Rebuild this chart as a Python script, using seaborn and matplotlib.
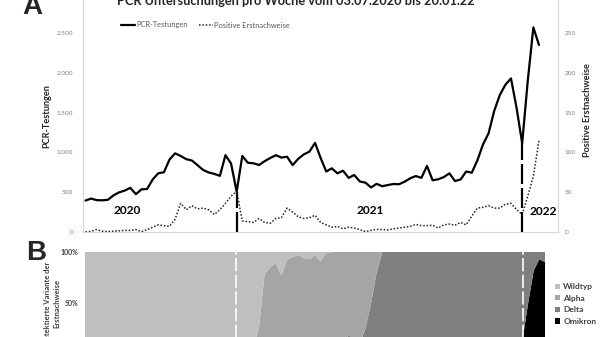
import matplotlib
matplotlib.use("Agg")
import matplotlib.pyplot as plt
import seaborn as sns
import pandas as pd
from matplotlib.lines import Line2D
from matplotlib.patches import Patch
from matplotlib.ticker import FuncFormatter, FixedLocator

# ---------------- data ----------------
pcr_tests = [395, 420, 400, 398, 405, 460, 498, 520, 555, 475,
             536, 540, 660, 738, 750, 910, 988, 955, 915, 898,
             840, 780, 748, 730, 705, 965, 860, 506, 955, 870,
             863, 842, 890, 930, 965, 935, 946, 840, 920, 975,
             1010, 1120, 930, 760, 800, 737, 770, 680, 716, 635,
             620, 560, 605, 575, 590, 603, 600, 632, 675, 703,
             680, 830, 650, 662, 690, 737, 640, 660, 760, 745,
             900, 1100, 1240, 1520, 1720, 1850, 1930, 1560, 1114, 1900,
             2570, 2350]
positive = [0, 1, 3, 1, 0.5, 1, 1.5, 2, 2, 3,
            0.5, 3, 6, 9, 8, 7, 16, 36, 28, 33,
            29, 30, 28, 22, 28, 36, 45, 51, 14, 13,
            12, 17, 12, 11, 17, 18, 30, 25, 19, 17,
            18, 21, 12, 9, 6, 7, 4, 6, 5, 3,
            0.5, 2, 3.3, 3, 2.6, 4, 5, 6, 7, 9.5,
            8, 8, 8.5, 5, 9, 10, 8.5, 12, 9, 20,
            30, 31, 33, 30, 30, 35, 36, 28, 22, 45,
            70, 115]
weeks = list(range(len(pcr_tests)))

year_labels = ["2020", "2021", "2022"]
year_breaks = [27, 78]

variant_names = ["Wildtyp", "Alpha", "Delta", "Omikron"]
variant_colors = ["#bfbfbf", "#a5a5a5", "#7f7f7f", "#000000"]
wildtyp = [100] * 28 + [98, 96, 92, 75, 22, 15, 11, 23, 8, 5, 3, 6, 7, 3, 9, 1] + [0] * 39
alpha = [0] * 28 + [2, 4, 8, 25, 78, 85, 89, 77, 92, 95, 97, 94, 93, 97, 91, 99,
                    100, 100, 98, 80, 92, 90, 75, 50, 20, 0] + [0] * 29
delta = [0] * 46 + [2, 20, 8, 10, 25, 50, 80, 100] + [100] * 23 + [98, 86, 50, 18, 7, 10]
omikron = [0] * 77 + [2, 14, 50, 82, 93, 90]
weeks_b = list(range(len(wildtyp)))

left_ticks = [0, 500, 1000, 1500, 2000, 2500]
right_ticks = [0, 50, 100, 150, 200, 250]
pct_ticks = [0, 50, 100]

title = "PCR Untersuchungen pro Woche vom 03.07.2020 bis 20.01.22"

# ---------------- style ----------------
sns.set_theme(style="white")
plt.rcParams["font.family"] = ["Lato", "DejaVu Sans"]

W, H = 600, 337
fig = plt.figure(figsize=(W / 100, H / 100), dpi=100)

def fx(px):
    return px / W

def fy(py):
    return 1 - py / H

DOT = (0, (1, 1.2))
DOT_COLOR = "#222222"

# ---------------- Panel A ----------------
axA = fig.add_axes([fx(83), fy(232), fx(558 - 83), 232 / H])
df = pd.DataFrame({"week": weeks, "pcr": pcr_tests, "pos": positive})
sns.lineplot(data=df, x="week", y="pcr", ax=axA, color="black", lw=1.6, legend=False)
axA.set_xlim(-0.45, 84.4)
axA.set_ylim(0, 232 / 0.0796)

for b in year_breaks:
    axA.plot([b, b], [0, pcr_tests[b]], color="black", lw=1.6, dashes=(9, 1.8),
             solid_capstyle="butt", dash_capstyle="butt", zorder=3)

axA2 = axA.twinx()
sns.lineplot(data=df, x="week", y="pos", ax=axA2, color=DOT_COLOR, lw=1.1,
             linestyle=DOT, legend=False)
axA2.set_ylim(0, 232 / 0.796)
axA2.set_xlim(-0.45, 84.4)

axA.yaxis.set_major_locator(FixedLocator(left_ticks))
axA.yaxis.set_major_formatter(FuncFormatter(lambda v, p: f"{v:,.0f}".replace(",", ".")))
axA2.yaxis.set_major_locator(FixedLocator(right_ticks))
axA.set_xticks([])
for ax in (axA, axA2):
    ax.set_xlabel("")
    ax.set_ylabel("")
    ax.tick_params(axis="y", length=0, labelsize=4.6, colors="#7f7f7f", pad=7)
    for s in ax.spines.values():
        s.set_color("#d9d9d9")
        s.set_linewidth(0.8)
    ax.spines["top"].set_visible(False)
axA2.spines["left"].set_visible(False)
axA2.spines["bottom"].set_visible(False)
axA2.tick_params(axis="y", pad=5)

year_pos = [(7.4, 264), (50.8, 264), (81.7, 257)]
for lab, (xx, yy) in zip(year_labels, year_pos):
    axA.text(xx, yy, lab, ha="center", va="center", fontsize=8.6, fontweight="bold", color="black")

fig.text(fx(296), fy(5), title, ha="center", va="baseline", fontsize=9.2, fontweight="bold")
fig.text(fx(22), fy(14), "A", ha="left", va="baseline", fontsize=20, fontweight="bold",
         family=["Liberation Sans", "DejaVu Sans"])
fig.text(fx(47), fy(116), "PCR-Testungen", rotation=90, ha="center", va="center",
         fontsize=6.6, fontweight="bold", color="#222222")
fig.text(fx(587), fy(110), "Positive Erstnachweise", rotation=90, ha="center", va="center",
         fontsize=6.6, fontweight="bold", color="#222222")

handles = [Line2D([], [], color="black", lw=1.6),
           Line2D([], [], color=DOT_COLOR, lw=1.1, linestyle=DOT)]
fig.legend(handles, ["PCR-Testungen", "Positive Erstnachweise"], loc="center left",
           bbox_to_anchor=(fx(121), fy(25)), bbox_transform=fig.transFigure,
           ncol=2, frameon=False, fontsize=5.4, handlelength=1.9, handletextpad=0.1,
           columnspacing=1.5, borderpad=0, borderaxespad=0, labelcolor="#595959")

# ---------------- Panel B ----------------
axB = fig.add_axes([fx(85), fy(354), fx(460), 102 / H])
axB.stackplot(weeks_b, omikron, delta, alpha, wildtyp,
              colors=variant_colors[::-1], linewidth=0, edgecolor="none")
axB.set_xlim(0, len(weeks_b) - 1)
axB.set_ylim(0, 100)
for b in year_breaks:
    axB.axvline(b, color="white", lw=1.2, dashes=(8, 2))
axB.set_xticks([])
axB.yaxis.set_major_locator(FixedLocator(pct_ticks))
axB.yaxis.set_major_formatter(FuncFormatter(lambda v, p: f"{v:.0f}%"))
axB.tick_params(axis="y", length=0, labelsize=5, colors="#404040", pad=5)
for t in axB.get_yticklabels():
    t.set_fontweight("bold")
for s in axB.spines.values():
    s.set_visible(False)

fig.text(fx(26), fy(260), "B", ha="left", va="baseline", fontsize=20, fontweight="bold",
         family=["Liberation Sans", "DejaVu Sans"])
fig.text(fx(52), fy(303), "Detektierte Variante der\nErstnachweise", rotation=90,
         ha="center", va="center", fontsize=5.5, fontweight="bold", color="#404040",
         linespacing=1.3, multialignment="center")

vh = [Patch(facecolor=c, edgecolor="none") for c in variant_colors]
fig.legend(vh, variant_names, loc="center left", bbox_to_anchor=(fx(555), fy(304)),
           bbox_transform=fig.transFigure, frameon=False,
           prop={"weight": "bold", "size": 6}, labelcolor="#404040",
           handlelength=0.6, handleheight=0.6, handletextpad=0.4, labelspacing=0.55,
           borderpad=0, borderaxespad=0)

fig.savefig("out.png", dpi=100)
